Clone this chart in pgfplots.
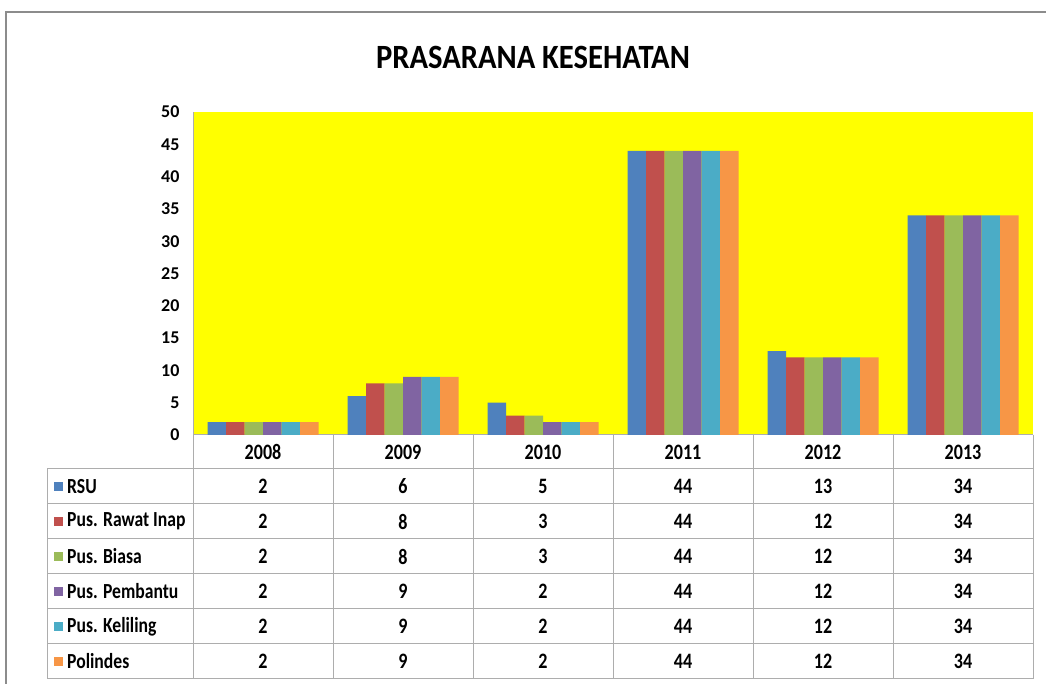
\documentclass[border=0pt]{standalone}
\usepackage{fontspec}
\setmainfont{Carlito}
\newfontfamily\titlefont[FakeStretch=0.9]{Carlito}
\newfontfamily\tabfont[FakeStretch=0.82]{Carlito}
\usepackage{pgfplots}
\usepackage{pgfplotstable}
\pgfplotsset{compat=1.18}
\definecolor{cRSU}{HTML}{4F81BD}
\definecolor{cRI}{HTML}{C0504D}
\definecolor{cBI}{HTML}{9BBB59}
\definecolor{cPE}{HTML}{8064A2}
\definecolor{cKE}{HTML}{4BACC6}
\definecolor{cPO}{HTML}{F79646}
\definecolor{gridc}{HTML}{ADADAD}
\definecolor{framec}{HTML}{8C8C8C}
\definecolor{plotbg}{HTML}{FFFF00}

\pgfplotstableread{
x RSU RI BI PE KE PO
0 2 2 2 2 2 2
1 6 8 8 9 9 9
2 5 3 3 2 2 2
3 44 44 44 44 44 44
4 13 12 12 12 12 12
5 34 34 34 34 34 34
}\data

\begin{document}
\begin{tikzpicture}[x=1pt,y=1pt]
\useasboundingbox (0,0) rectangle (1046,684);
\fill[white] (0,0) rectangle (1046,684);
% outer frame
\draw[framec, line width=1.5pt] (6,0) -- (6,672) -- (1046,672);
% title
\node[font=\titlefont\bfseries\fontsize{34}{34}\selectfont] at (533,627) {PRASARANA KESEHATAN};

\begin{axis}[
  at={(193pt,249pt)}, anchor=south west,
  width=840pt, height=323pt, scale only axis,
  xmin=-0.5, xmax=5.5, ymin=0, ymax=50,
  ytick={0,5,...,50}, xtick=\empty,
  axis background/.style={fill=plotbg},
  axis x line*=bottom, axis y line*=left,
  axis line style={-, draw=gridc, line width=1pt},
  ytick style={draw=none},
  /pgf/number format/assume math mode=true,
  yticklabel style={font=\bfseries\fontsize{18}{18}\selectfont, xshift=-10pt},
  ybar=0pt, bar width=18.5pt,
  clip=false,
]
\addplot[fill=cRSU, draw=none] table[x=x, y=RSU] {\data};
\addplot[fill=cRI, draw=none] table[x=x, y=RI] {\data};
\addplot[fill=cBI, draw=none] table[x=x, y=BI] {\data};
\addplot[fill=cPE, draw=none] table[x=x, y=PE] {\data};
\addplot[fill=cKE, draw=none] table[x=x, y=KE] {\data};
\addplot[fill=cPO, draw=none] table[x=x, y=PO] {\data};
\end{axis}

% data table grid
\begin{scope}[gridc, line width=1pt]
  \draw (193,249) -- (193,5);
  \foreach \k in {1,...,6} { \draw (193+140*\k,249) -- (193+140*\k,5); }
  \draw (47,215) -- (47,5);
  \foreach \r in {0,...,6} { \draw (47,215-35*\r) -- (1033,215-35*\r); }
\end{scope}
% header years
\foreach \yr [count=\i from 0] in {2008,2009,2010,2011,2012,2013} {
  \node[font=\tabfont\bfseries\fontsize{22}{22}\selectfont] at (263+140*\i,232) {\yr};
}
% row labels with keys
\foreach \lab/\col [count=\r from 0] in {RSU/cRSU,Pus. Rawat Inap/cRI,Pus. Biasa/cBI,Pus. Pembantu/cPE,Pus. Keliling/cKE,Polindes/cPO} {
  \fill[\col] (54,197.5-35*\r-4.5) rectangle (63,197.5-35*\r+4.5);
  \node[anchor=west, inner sep=0pt, font=\tabfont\bfseries\fontsize{21.5}{21.5}\selectfont] at (67,197.5-35*\r) {\lab};
}
% values
\foreach \c [count=\r from 0] in {RSU,RI,BI,PE,KE,PO} {
  \foreach \i in {0,...,5} {
    \pgfplotstablegetelem{\i}{\c}\of\data
    \node[font=\tabfont\bfseries\fontsize{22}{22}\selectfont] at (263+140*\i,197.5-35*\r) {\pgfplotsretval};
  }
}
\end{tikzpicture}
\end{document}
